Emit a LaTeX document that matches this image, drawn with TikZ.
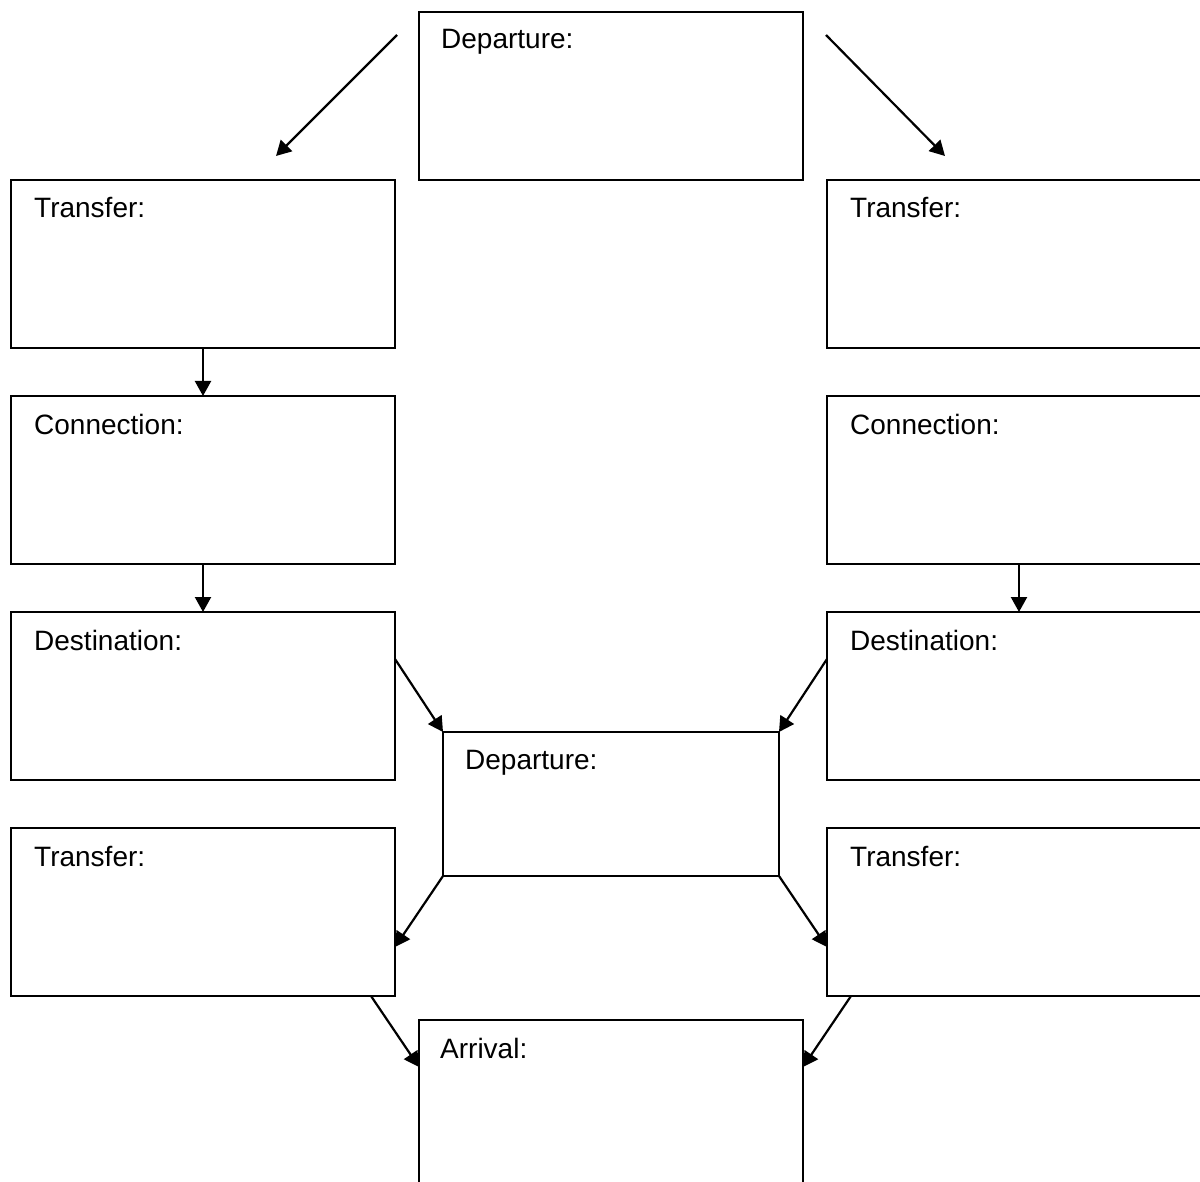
\documentclass[tikz,border=0pt]{standalone}
\usepackage{fontspec}
\setmainfont{Liberation Sans}
\usetikzlibrary{arrows.meta,calc}

\tikzset{
  box/.style={draw=black, line width=2.2pt, rectangle, anchor=north west,
    minimum width=384pt, minimum height=168pt, inner sep=0pt, outer sep=0pt},
  midbox/.style={box, minimum width=336pt, minimum height=144pt},
  lbl/.style={anchor=base west, inner sep=0pt,
    font=\fontsize{28pt}{32pt}\selectfont},
  flow/.style={line width=2.2pt, -{Triangle[length=15pt,width=16pt]}},
}

\begin{document}
\begin{tikzpicture}[x=1pt, y=-1pt]
  \useasboundingbox (0,0) rectangle (1200,1182);
  \clip (0,0) rectangle (1200,1182);
  \fill[white] (0,0) rectangle (1200,1182);

  % boxes
  \node[box] (dep)  at (419,12)   {};
  \node[box] (trL)  at (11,180)   {};
  \node[box] (cnL)  at (11,396)   {};
  \node[box] (dsL)  at (11,612)   {};
  \node[box] (trLb) at (11,828)   {};
  \node[box] (trR)  at (827,180)  {};
  \node[box] (cnR)  at (827,396)  {};
  \node[box] (dsR)  at (827,612)  {};
  \node[box] (trRb) at (827,828)  {};
  \node[midbox] (mid) at (443,732) {};
  \node[box] (arr)  at (419,1020) {};

  % captions
  \node[lbl] (tdep)  at ($(dep.north west)+(22,37)$)  {Departure:};
  \node[lbl] (ttrL)  at ($(trL.north west)+(23,38)$)  {Transfer:};
  \node[lbl] (tcnL)  at ($(cnL.north west)+(23,38)$)  {Connection:};
  \node[lbl] (tdsL)  at ($(dsL.north west)+(23,38)$)  {Destination:};
  \node[lbl] (ttrLb) at ($(trLb.north west)+(23,38)$) {Transfer:};
  \node[lbl] (ttrR)  at ($(trR.north west)+(23,38)$)  {Transfer:};
  \node[lbl] (tcnR)  at ($(cnR.north west)+(23,38)$)  {Connection:};
  \node[lbl] (tdsR)  at ($(dsR.north west)+(23,38)$)  {Destination:};
  \node[lbl] (ttrRb) at ($(trRb.north west)+(23,38)$) {Transfer:};
  \node[lbl] (tmid)  at ($(mid.north west)+(22,37)$)  {Departure:};
  \node[lbl] (tarr)  at ($(arr.north west)+(21,38)$)  {Arrival:};

  % connectors
  \draw[flow] ($(dep.north west)+(-22,23)$) -- ($(trL.north)+(73,-24)$);
  \draw[flow] ($(dep.north east)+(23,23)$) -- ($(trR.north)+(-74,-24)$);
  \draw[flow] (trL.south) -- (cnL.north);
  \draw[flow] (cnL.south) -- (dsL.north);
  \draw[flow] (cnR.south) -- (dsR.north);
  \draw[flow] ($(dsL.north east)+(0,47)$) -- (mid.north west);
  \draw[flow] ($(dsR.north west)+(0,47)$) -- (mid.north east);
  \draw[flow] (mid.south west) -- ($(trLb.north east)+(0,119)$);
  \draw[flow] (mid.south east) -- ($(trRb.north west)+(0,119)$);
  \draw[flow] ($(trLb.south east)+(-24,0)$) -- ($(arr.north west)+(0,47)$);
  \draw[flow] ($(trRb.south west)+(24,0)$) -- ($(arr.north east)+(0,47)$);
\end{tikzpicture}
\end{document}
